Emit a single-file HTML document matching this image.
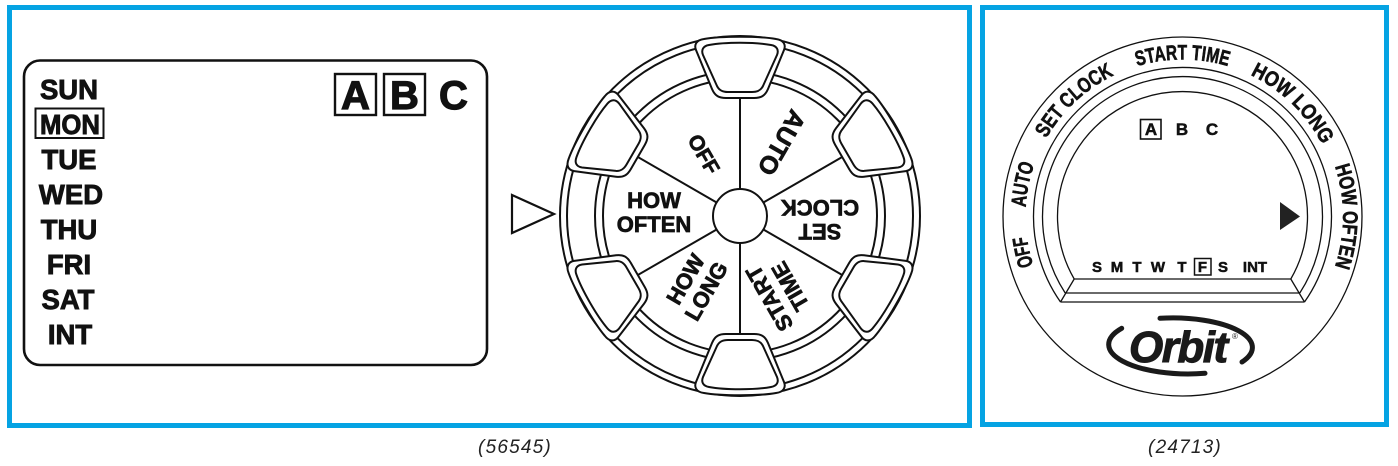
<!DOCTYPE html>
<html>
<head>
<meta charset="utf-8">
<style>
  html,body{margin:0;padding:0;background:#fff;}
  svg{display:block;}
  text{font-family:"Liberation Sans", Arial, sans-serif;}
</style>
</head>
<body>
<svg width="1398" height="466" viewBox="0 0 1398 466" xmlns="http://www.w3.org/2000/svg">
  <rect x="0" y="0" width="1398" height="466" fill="#fff"/>

  <!-- Blue frames -->
  <rect x="9.5" y="7.5" width="960" height="418" fill="none" stroke="#05a3e3" stroke-width="5"/>
  <rect x="982.5" y="7.5" width="404" height="417" fill="none" stroke="#05a3e3" stroke-width="5"/>

  <!-- Captions -->
  <text x="515" y="453" font-size="19" font-style="italic" text-anchor="middle" fill="#222" letter-spacing="1.2">(56545)</text>
  <text x="1185" y="453" font-size="19" font-style="italic" text-anchor="middle" fill="#222" letter-spacing="1.2">(24713)</text>

  <!-- ===== LEFT LCD ===== -->
  <rect x="24" y="60.5" width="463" height="304.5" rx="16" ry="16" fill="none" stroke="#111" stroke-width="2.6"/>
  <g font-weight="bold" font-size="27.5" text-anchor="middle" fill="#111" stroke="#111" stroke-width="0.9">
    <text x="69" y="99">SUN</text>
    <text x="70" y="134" textLength="60" lengthAdjust="spacingAndGlyphs">MON</text>
    <text x="69" y="169">TUE</text>
    <text x="71" y="204">WED</text>
    <text x="69" y="239">THU</text>
    <text x="69" y="274">FRI</text>
    <text x="68" y="309">SAT</text>
    <text x="70" y="344">INT</text>
  </g>
  <rect x="35.5" y="108.5" width="68" height="29.5" fill="none" stroke="#111" stroke-width="2"/>

  <rect x="335" y="74" width="41" height="41" fill="none" stroke="#111" stroke-width="2.4"/>
  <rect x="384" y="74" width="41" height="41" fill="none" stroke="#111" stroke-width="2.4"/>
  <g font-weight="bold" font-size="40" text-anchor="middle" fill="#111" stroke="#111" stroke-width="1.2">
    <text x="355.5" y="109">A</text>
    <text x="404.5" y="109">B</text>
    <text x="453.5" y="109">C</text>
  </g>

  <!-- Pointer triangle -->
  <polygon points="512,195 554,214 512,233" fill="none" stroke="#111" stroke-width="2.2" stroke-linejoin="miter"/>

  <!-- ===== DIAL ===== -->
  <g transform="translate(740,216)" stroke="#111" stroke-width="2" fill="none">
    <circle r="180" fill="#fff"/>
    <circle r="173"/>
    <circle r="145"/>
    <circle r="137"/>
    <!-- radial lines -->
    <g>
      <line x1="0" y1="-27" x2="0" y2="-121" transform="rotate(0)"/>
      <line x1="0" y1="-27" x2="0" y2="-121" transform="rotate(60)"/>
      <line x1="0" y1="-27" x2="0" y2="-121" transform="rotate(120)"/>
      <line x1="0" y1="-27" x2="0" y2="-121" transform="rotate(180)"/>
      <line x1="0" y1="-27" x2="0" y2="-121" transform="rotate(240)"/>
      <line x1="0" y1="-27" x2="0" y2="-121" transform="rotate(300)"/>
    </g>
    <!-- knobs -->
    <g>
      <path fill="#fff" d="M -36,-177 C -44,-176 -46,-171 -44,-166 L -28,-127 C -25,-120 -21,-118 -14,-118 L 14,-118 C 21,-118 25,-120 28,-127 L 44,-166 C 46,-171 44,-176 36,-177 C 20,-180 -20,-180 -36,-177 Z"/>
      <path d="M -31,-171 C -37,-170 -39,-166 -37,-161 L -23,-130 C -21,-126 -18,-124 -12,-124 L 12,-124 C 18,-124 21,-126 23,-130 L 37,-161 C 39,-166 37,-170 31,-171 C 15,-174 -15,-174 -31,-171 Z"/>
    </g>
    <g transform="rotate(60)">
      <path fill="#fff" d="M -36,-177 C -44,-176 -46,-171 -44,-166 L -28,-127 C -25,-120 -21,-118 -14,-118 L 14,-118 C 21,-118 25,-120 28,-127 L 44,-166 C 46,-171 44,-176 36,-177 C 20,-180 -20,-180 -36,-177 Z"/>
      <path d="M -31,-171 C -37,-170 -39,-166 -37,-161 L -23,-130 C -21,-126 -18,-124 -12,-124 L 12,-124 C 18,-124 21,-126 23,-130 L 37,-161 C 39,-166 37,-170 31,-171 C 15,-174 -15,-174 -31,-171 Z"/>
    </g>
    <g transform="rotate(120)">
      <path fill="#fff" d="M -36,-177 C -44,-176 -46,-171 -44,-166 L -28,-127 C -25,-120 -21,-118 -14,-118 L 14,-118 C 21,-118 25,-120 28,-127 L 44,-166 C 46,-171 44,-176 36,-177 C 20,-180 -20,-180 -36,-177 Z"/>
      <path d="M -31,-171 C -37,-170 -39,-166 -37,-161 L -23,-130 C -21,-126 -18,-124 -12,-124 L 12,-124 C 18,-124 21,-126 23,-130 L 37,-161 C 39,-166 37,-170 31,-171 C 15,-174 -15,-174 -31,-171 Z"/>
    </g>
    <g transform="rotate(180)">
      <path fill="#fff" d="M -36,-177 C -44,-176 -46,-171 -44,-166 L -28,-127 C -25,-120 -21,-118 -14,-118 L 14,-118 C 21,-118 25,-120 28,-127 L 44,-166 C 46,-171 44,-176 36,-177 C 20,-180 -20,-180 -36,-177 Z"/>
      <path d="M -31,-171 C -37,-170 -39,-166 -37,-161 L -23,-130 C -21,-126 -18,-124 -12,-124 L 12,-124 C 18,-124 21,-126 23,-130 L 37,-161 C 39,-166 37,-170 31,-171 C 15,-174 -15,-174 -31,-171 Z"/>
    </g>
    <g transform="rotate(240)">
      <path fill="#fff" d="M -36,-177 C -44,-176 -46,-171 -44,-166 L -28,-127 C -25,-120 -21,-118 -14,-118 L 14,-118 C 21,-118 25,-120 28,-127 L 44,-166 C 46,-171 44,-176 36,-177 C 20,-180 -20,-180 -36,-177 Z"/>
      <path d="M -31,-171 C -37,-170 -39,-166 -37,-161 L -23,-130 C -21,-126 -18,-124 -12,-124 L 12,-124 C 18,-124 21,-126 23,-130 L 37,-161 C 39,-166 37,-170 31,-171 C 15,-174 -15,-174 -31,-171 Z"/>
    </g>
    <g transform="rotate(300)">
      <path fill="#fff" d="M -36,-177 C -44,-176 -46,-171 -44,-166 L -28,-127 C -25,-120 -21,-118 -14,-118 L 14,-118 C 21,-118 25,-120 28,-127 L 44,-166 C 46,-171 44,-176 36,-177 C 20,-180 -20,-180 -36,-177 Z"/>
      <path d="M -31,-171 C -37,-170 -39,-166 -37,-161 L -23,-130 C -21,-126 -18,-124 -12,-124 L 12,-124 C 18,-124 21,-126 23,-130 L 37,-161 C 39,-166 37,-170 31,-171 C 15,-174 -15,-174 -31,-171 Z"/>
    </g>
    <circle r="27" fill="#fff"/>
  </g>

  <!-- Dial labels -->
  <g font-weight="bold" fill="#111" text-anchor="middle" stroke="#111" stroke-width="0.7">
    <g transform="translate(654,216) rotate(0)" font-size="22">
      <text x="0" y="-8">HOW</text>
      <text x="0" y="16">OFTEN</text>
    </g>
    <g transform="translate(820,216) rotate(180)" font-size="22">
      <text x="0" y="-8">SET</text>
      <text x="0" y="16">CLOCK</text>
    </g>
    <g transform="translate(783,290.5) rotate(240)" font-size="22">
      <text x="0" y="-8">START</text>
      <text x="0" y="16">TIME</text>
    </g>
    <g transform="translate(699,287) rotate(300)" font-size="22">
      <text x="0" y="-8">HOW</text>
      <text x="0" y="16">LONG</text>
    </g>
    <g transform="translate(782,143) rotate(120)" font-size="25">
      <text x="0" y="9">AUTO</text>
    </g>
    <g transform="translate(704,154) rotate(60)" font-size="21">
      <text x="0" y="7.5">OFF</text>
    </g>
  </g>

  <!-- ===== RIGHT PANEL ===== -->
  <g fill="none" stroke="#111" stroke-width="1.3">
    <circle cx="1182.5" cy="216.5" r="179.5"/>
    <path d="M 1060.5 302 A 149 149 0 1 1 1304.5 302"/>
    <path d="M 1065.2 293 A 140 140 0 1 1 1299.8 293"/>
    <path d="M 1074.2 279 A 125 125 0 1 1 1290.8 279"/>
    <line x1="1074.2" y1="279" x2="1290.8" y2="279"/>
    <line x1="1065.2" y1="293" x2="1299.8" y2="293"/>
    <line x1="1060.5" y1="302" x2="1304.5" y2="302"/>
    <line x1="1074.2" y1="279" x2="1060.5" y2="302"/>
    <line x1="1290.8" y1="279" x2="1304.5" y2="302"/>
  </g>

  <defs>
    <path id="pOFF" d="M 1110.5 356 A 157 157 0 0 1 1057.6 121.4"/>
    <path id="pAUTO" d="M 1059.8 314.5 A 157 157 0 0 1 1107.3 78.6"/>
    <path id="pSET" d="M 1025.7 224.7 A 157 157 0 0 1 1201.6 60.7"/>
    <path id="pSTART" d="M 1062.2 115.6 A 157 157 0 0 1 1302.8 115.6"/>
    <path id="pLONG" d="M 1166.6 60.3 A 157 157 0 0 1 1339.1 228"/>
    <path id="pOFTEN" d="M 1286 94.5 A 159 159 0 0 1 1286 338.5"/>
  </defs>
  <g font-weight="bold" font-size="21" fill="#111" text-anchor="middle" stroke="#111" stroke-width="0.6">
    <text><textPath href="#pOFF" startOffset="50%" textLength="30" lengthAdjust="spacingAndGlyphs">OFF</textPath></text>
    <text><textPath href="#pAUTO" startOffset="50%" textLength="44" lengthAdjust="spacingAndGlyphs">AUTO</textPath></text>
    <text><textPath href="#pSET" startOffset="50%" textLength="94" lengthAdjust="spacingAndGlyphs">SET CLOCK</textPath></text>
    <text><textPath href="#pSTART" startOffset="50%" textLength="92" lengthAdjust="spacingAndGlyphs">START TIME</textPath></text>
    <text><textPath href="#pLONG" startOffset="50%" textLength="102" lengthAdjust="spacingAndGlyphs">HOW LONG</textPath></text>
    <text><textPath href="#pOFTEN" startOffset="50%" textLength="102" lengthAdjust="spacingAndGlyphs">HOW OFTEN</textPath></text>
  </g>

  <!-- ABC -->
  <rect x="1140.5" y="119.5" width="20.5" height="19.5" fill="none" stroke="#111" stroke-width="1.6"/>
  <g font-weight="bold" font-size="17" fill="#111" text-anchor="middle" stroke="#111" stroke-width="0.5">
    <text x="1151" y="135">A</text>
    <text x="1182" y="135">B</text>
    <text x="1212" y="135">C</text>
  </g>

  <!-- filled triangle -->
  <polygon points="1280,202 1300,216.5 1280,230" fill="#222"/>

  <!-- day row -->
  <rect x="1194.5" y="258.5" width="16.5" height="16.5" fill="none" stroke="#111" stroke-width="1.5"/>
  <g font-weight="bold" font-size="15" fill="#111" text-anchor="middle" stroke="#111" stroke-width="0.5">
    <text x="1097" y="272">S</text>
    <text x="1117" y="272">M</text>
    <text x="1137" y="272">T</text>
    <text x="1158" y="272">W</text>
    <text x="1182" y="272">T</text>
    <text x="1202.5" y="272">F</text>
    <text x="1223" y="272">S</text>
    <text x="1255" y="272">INT</text>
  </g>

  <!-- Orbit logo -->
  <g fill="none" stroke="#1a1a1a" stroke-linecap="round">
    <path d="M 1121.7 328.3 A 79.5 29.5 0 0 0 1205 373.3" stroke-width="5"/>
    <path d="M 1160 318.3 A 79.5 29.5 0 0 1 1242 362" stroke-width="5"/>
  </g>
  <text x="1129" y="362" font-size="44" font-weight="bold" font-style="italic" fill="#1a1a1a" stroke="#1a1a1a" stroke-width="1" letter-spacing="-1.5">Orbit</text>
  <text x="1232" y="339" font-size="8" fill="#1a1a1a">®</text>
</svg>
</body>
</html>
